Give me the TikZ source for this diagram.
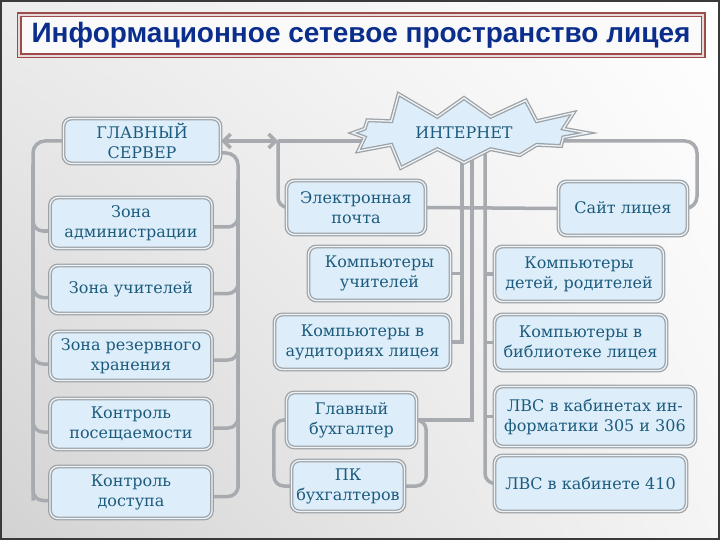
\documentclass[tikz,border=0pt]{standalone}
\usepackage{fontspec}
\setmainfont{DejaVu Serif}
\newfontfamily\titlefont{Liberation Sans}
\usetikzlibrary{arrows.meta,shapes.symbols,shadings}
\definecolor{BoxFill}{HTML}{DDEEFA}
\definecolor{BoxEdge}{HTML}{9DA2A7}
\definecolor{BoxGap}{HTML}{EEF3F7}
\definecolor{LinkGray}{HTML}{A7ABAF}
\definecolor{BoxText}{HTML}{1D5B7D}
\definecolor{TitleBlue}{HTML}{0B2E8C}
\definecolor{TitleRed}{HTML}{9E4B4B}
\definecolor{TitleGap}{HTML}{E6DADA}
\definecolor{FrameDark}{HTML}{3A3A3A}
\pgfdeclarelayer{bg}
\pgfdeclarelayer{links}
\pgfsetlayers{bg,links,main}

\begin{document}
\begin{tikzpicture}[x=1pt,y=-1pt,
  box/.style={draw=BoxEdge,line width=1.3pt,double=BoxGap,double distance=1.3pt,
    fill=BoxFill,rounded corners=8pt,align=center,text=BoxText,inner sep=2pt,
    font=\fontsize{16}{20}\selectfont},
  netstar/.style={shape=starburst,starburst points=12,starburst point height=30pt,
    random starburst=5,draw=BoxEdge,line width=1.3pt,double=BoxGap,
    double distance=1.3pt,fill=BoxFill,text=BoxText,inner xsep=24pt,inner ysep=6pt,
    font=\fontsize{16}{20}\selectfont},
  link/.style={draw=LinkGray,line width=3.5pt},
  barb/.tip={Straight Barb[length=7pt,width=14pt]}]
  \useasboundingbox (0,0) rectangle (720,540);
  \begin{pgfonlayer}{bg}
    \shade[upper left=gray!15,upper right=white,lower left=gray!35,lower right=gray!8]
      (0,0) rectangle (720,540);
    \draw[FrameDark,line width=2pt] (1,1) rectangle (719,539);
  \end{pgfonlayer}

  % title
  \node[draw=TitleRed,line width=1.4pt,double=TitleGap,double distance=2.2pt,
    fill=gray!4,minimum width=684pt,minimum height=41pt,text=TitleBlue,
    font=\titlefont\bfseries\fontsize{28}{32}\selectfont] (title) at (361,35.5)
    {Информационное сетевое пространство лицея};

  % left column
  \node[box,minimum width=157pt,minimum height=45pt] (server) at (142,141) {ГЛАВНЫЙ\\СЕРВЕР};
  \node[box,minimum width=162pt,minimum height=51pt] (admzone) at (131,223) {Зона\\администрации};
  \node[box,minimum width=162pt,minimum height=48pt] (teachzone) at (131,289.5) {Зона учителей};
  \node[box,minimum width=162pt,minimum height=49pt] (backzone) at (131,356) {Зона резервного\\хранения};
  \node[box,minimum width=162pt,minimum height=51pt] (visitctl) at (131,424) {Контроль\\посещаемости};
  \node[box,minimum width=162pt,minimum height=52pt] (accessctl) at (131,492.5) {Контроль\\доступа};

  % internet
  \node[netstar] (net) at (464,133) {ИНТЕРНЕТ};

  % middle column
  \node[box,minimum width=139pt,minimum height=54pt] (mail) at (356,207.5) {Электронная\\почта};
  \node[box,minimum width=142pt,minimum height=54pt] (teachpc) at (379.5,273.5) {Компьютеры\\учителей};
  \node[box,minimum width=176pt,minimum height=55pt] (roompc) at (362.5,342) {Компьютеры в\\аудиториях лицея};
  \node[box,minimum width=130pt,minimum height=55pt] (chiefacc) at (351.5,420) {Главный\\бухгалтер};
  \node[box,minimum width=113pt,minimum height=51pt] (accpc) at (348,486) {ПК\\бухгалтеров};

  % right column
  \node[box,minimum width=129pt,minimum height=54pt] (site) at (623,208.5) {Сайт лицея};
  \node[box,minimum width=169pt,minimum height=55pt] (homepc) at (579,274) {Компьютеры\\детей, родителей};
  \node[box,minimum width=172pt,minimum height=56pt] (libpc) at (580.5,342.5) {Компьютеры в\\библиотеке лицея};
  \node[box,minimum width=201pt,minimum height=60pt] (itlan) at (595,416.5) {ЛВС в кабинетах ин-\\форматики 305 и 306};
  \node[box,minimum width=192pt,minimum height=56pt] (lan410) at (590.5,483.5) {ЛВС в кабинете 410};

  \coordinate (lsTop) at (33,165);
  \coordinate (lsBot) at (33,500.5);
  \coordinate (rsTop) at (238,180);
  \coordinate (rsBot) at (238,488.5);
  \coordinate (mailTurn) at (278,141);
  \coordinate (netW) at (420,141);
  \coordinate (netE) at (520,141);
  \coordinate (siteTurn) at (697,208.5);
  \coordinate (busA) at (462,150);
  \coordinate (busB) at (472,150);
  \coordinate (busC) at (485,150);

  \begin{pgfonlayer}{links}
    % server brackets
    \draw[link,rounded corners=12pt] (server.west) -| (lsBot);
    \foreach \z in {admzone,teachzone,backzone,visitctl,accessctl}
      \draw[link,rounded corners=10pt] ([yshift=-8pt]\z.west) -| (lsTop);
    \draw[link,rounded corners=12pt] ([yshift=-12pt]server.east) -| (rsBot);
    \foreach \z in {admzone,teachzone,backzone,visitctl,accessctl}
      \draw[link,rounded corners=10pt] ([yshift=-4pt]\z.east) -| (rsTop);
    % internet links
    \draw[link,barb-barb] (server.east) -- (mailTurn);
    \draw[link,rounded corners=10pt] (mail.west) -| (mailTurn);
    \draw[link] (mailTurn) -- (netW);
    \draw[link,rounded corners=12pt] (netE) -| (siteTurn) -- (site.east);
    \draw[link] (mail.east) -- (site.west);
    % buses
    \draw[link] (busA) |- (roompc.east);
    \draw[link] (teachpc.east) -- (teachpc.east -| busA);
    \draw[link] (busB) |- (chiefacc.east);
    \draw[link,rounded corners=10pt] (busC) |- (lan410.west);
    \foreach \z in {homepc,libpc,itlan}
      \draw[link] (\z.west) -- (\z.west -| busC);
    % accounting bracket
    \draw[link,rounded corners=10pt] (chiefacc.west) -- ++(-12,0) |- (accpc.west);
    \draw[link,rounded corners=10pt] (chiefacc.east) -- ++(9,0) |- (accpc.east);
  \end{pgfonlayer}
\end{tikzpicture}
\end{document}
